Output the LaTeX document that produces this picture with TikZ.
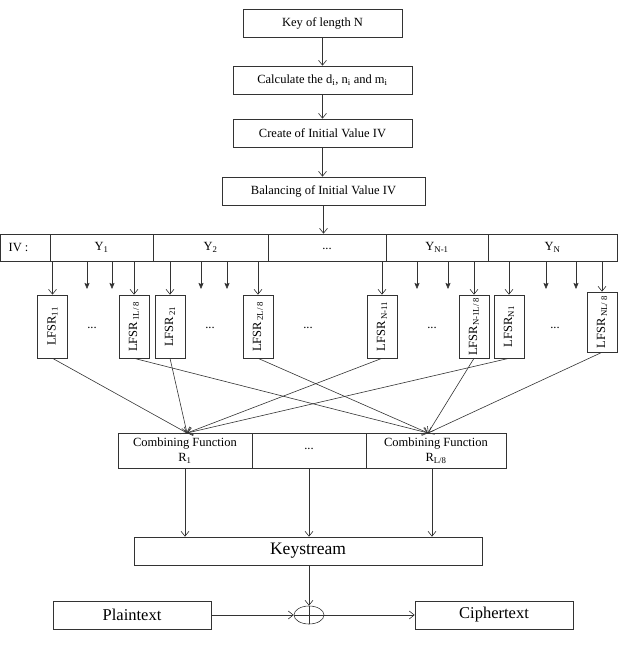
\documentclass[tikz,border=0pt]{standalone}
\usepackage{fontspec}
\setmainfont{Liberation Serif}
\usetikzlibrary{shapes.geometric,arrows.meta}

\newcommand{\boxfont}{\fontsize{12.5pt}{15pt}\selectfont}
\newcommand{\bigfont}{\fontsize{17.5pt}{20pt}\selectfont}
\newcommand{\midfont}{\fontsize{16.5pt}{19pt}\selectfont}
\newcommand{\dotsrow}{\raisebox{-3.5pt}{...}}

\begin{document}
\begin{tikzpicture}[x=1pt,y=-1pt,line width=0.6pt,draw=black!80,
  box/.style={draw,inner sep=0pt,minimum height=28,font=\boxfont},
  cell/.style={draw,inner sep=0pt,minimum height=27,font=\boxfont},
  lfsr/.style={draw,inner sep=0pt,minimum width=30,minimum height=63,font=\boxfont},
  comb/.style={draw,inner sep=0pt,minimum height=35,align=center,font=\boxfont},
  arr/.style={-{Straight Barb[length=5pt,width=8pt]},draw=black!80},
  tick/.style={-{Stealth[length=6pt,width=5pt,inset=1pt]},draw=black!80}]
  \useasboundingbox (0,0) rectangle (627,651);

  % Key set-up steps
  \node[box,minimum width=159] (key) at (322.5,23) {Key of length N};
  \node[box,minimum width=179] (calc) at (322.5,80)
    {Calculate the d\textsubscript{i}, n\textsubscript{i} and m\textsubscript{i}};
  \node[box,minimum width=179] (create) at (322.5,133) {Create of Initial Value IV};
  \node[box,minimum width=203] (balance) at (323.5,191) {Balancing of Initial Value IV};

  \draw[arr] (key) -- (calc);
  \draw[arr] (calc) -- (create);
  \draw[arr] (create.south) -- (create.south |- balance.north);

  % IV row
  \node[cell,minimum width=50] (ivc) at (25,247.5) {};
  \node[anchor=west,font=\boxfont] (ivlabel) at (5,247.5) {IV :};
  \node[cell,minimum width=103] (y1) at (101.5,247.5) {Y\textsubscript{1}};
  \node[cell,minimum width=115] (y2) at (210.5,247.5) {Y\textsubscript{2}};
  \node[cell,minimum width=118] (ydots) at (327,247.5) {\dotsrow};
  \node[cell,minimum width=102] (yn1) at (437,247.5) {Y\textsubscript{N-1}};
  \node[cell,minimum width=129] (yn) at (552.5,247.5) {Y\textsubscript{N}};

  \draw[arr] (balance.south) -- (balance.south |- ydots.north);

  % LFSR boxes
  \node[lfsr] (l11) at (52.5,326.5) {\rotatebox{90}{LFSR\textsubscript{11}}};
  \node[lfsr] (l1L) at (134,326.5) {\rotatebox{90}{LFSR\textsubscript{\,1L/ 8}}};
  \node[lfsr] (l21) at (170,326.5) {\rotatebox{90}{LFSR\textsubscript{\,21}}};
  \node[lfsr] (l2L) at (258,326.5) {\rotatebox{90}{LFSR\textsubscript{\,2L/ 8}}};
  \node[lfsr] (lN11) at (382,326.5) {\rotatebox{90}{LFSR\textsubscript{\,N-11}}};
  \node[lfsr] (lN1L) at (474,326.5) {\rotatebox{90}{LFSR\textsubscript{N-1L/ 8}}};
  \node[lfsr] (lN1) at (509,326.5) {\rotatebox{90}{LFSR\textsubscript{N1}}};
  \node[lfsr,minimum height=60] (lNL) at (602,322) {\rotatebox{90}{LFSR\textsubscript{\,NL/ 8}}};

  \foreach \n/\m in {92/d1,210/d2,308/d3,432/d4,555/d5}
    \node[font=\boxfont] (\m) at (\n,327) {\dotsrow};

  % arrows from the IV row
  \draw[arr] (l11.north |- y1.south) -- (l11.north);
  \draw[arr] (l1L.north |- y1.south) -- (l1L.north);
  \draw[arr] (l21.north |- y2.south) -- (l21.north);
  \draw[arr] (l2L.north |- y2.south) -- (l2L.north);
  \draw[arr] (lN11.north |- ydots.south) -- (lN11.north);
  \draw[arr] (lN1L.north |- yn1.south) -- (lN1L.north);
  \draw[arr] (lN1.north |- yn.south) -- (lN1.north);
  \draw[arr] (lNL.north |- yn.south) -- (lNL.north);

  % short arrows
  \foreach \x/\c in {87/y1,112/y1,201/y2,227/y2,417/yn1,448/yn1,546/yn,576/yn} {
    \coordinate (s\x) at (\x,289);
    \draw[tick] (s\x |- \c.south) -- (s\x);
  }

  % Combining functions
  \node[comb,minimum width=134] (comb1) at (185,450.5)
    {Combining Function\\R\textsubscript{1}};
  \node[comb,minimum width=114] (combdots) at (309,450.5) {\raisebox{3pt}{...}};
  \node[comb,minimum width=140] (combL) at (436,450.5)
    {Combining Function\\R\textsubscript{L/8}};

  \coordinate (r1) at (187,433);
  \coordinate (rL) at (428,433);
  \foreach \b in {l11,l21,lN11,lN1}
    \draw[arr] (\b.south) -- (r1);
  \foreach \b in {l1L,l2L,lN1L,lNL}
    \draw[arr] (\b.south) -- (rL);

  % Keystream and encryption
  \node[box,minimum width=348,font=\bigfont] (keys) at (308,551) {Keystream};

  \draw[arr] (comb1.south) -- (comb1.south |- keys.north);
  \draw[arr] (combdots.south) -- (combdots.south |- keys.north);
  \draw[arr] ([xshift=-4]combL.south) -- ([xshift=-4]combL.south |- keys.north);

  \node[draw,ellipse,inner sep=0pt,minimum width=30,minimum height=18] (xor) at (309,615) {};
  \draw (xor.north) -- (xor.south) (xor.west) -- (xor.east);

  \node[box,minimum width=158,font=\midfont] (plain) at (132,615) {Plaintext};
  \node[box,minimum width=158,font=\midfont] (cipher) at (494,615) {Ciphertext};

  \draw[arr] (keys.south -| xor.north) -- (xor.north);
  \draw[arr] (plain) -- (xor);
  \draw[arr] (xor) -- (cipher);
\end{tikzpicture}
\end{document}
